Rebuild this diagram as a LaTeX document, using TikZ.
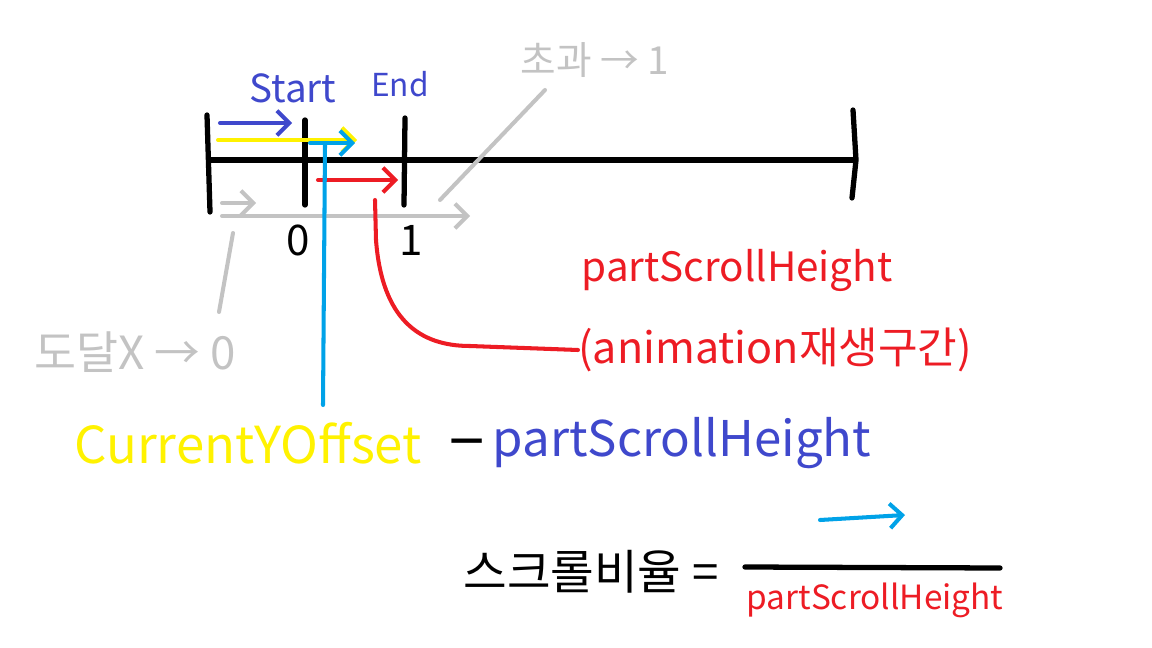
\documentclass[tikz,border=0pt]{standalone}
\usepackage{fontspec}
\setmainfont{Noto Sans CJK KR}
\usetikzlibrary{arrows.meta, calc}

\definecolor{penblue}{RGB}{63,72,204}
\definecolor{penyellow}{RGB}{255,242,0}
\definecolor{pencyan}{RGB}{0,162,232}
\definecolor{penred}{RGB}{237,28,36}
\definecolor{pengray}{RGB}{195,195,195}

\tikzset{
  pen/.style={line width=2.3pt, line cap=round, line join=round},
  thick pen/.style={line width=3pt, line cap=round},
  hand/.style={-{Straight Barb[length=7pt, width=14pt, line width=2.3pt]}},
  word/.style={inner sep=0pt, font=\fontsize{#1}{#1}\selectfont},
}

\begin{document}
\begin{tikzpicture}[x=0.02cm, y=-0.02cm]
        \useasboundingbox (0,0) rectangle (1152,648);

        % the ruler
        \coordinate (L) at (210,160);
        \coordinate (R) at (853,160);
        \draw[thick pen] (L) -- (R);
        \draw[thick pen] (207,115) -- (210,212);
        \draw[thick pen] (305,120) -- (305,205);
        \draw[thick pen] (405,118) -- (404,205);
        \draw[thick pen] (853,110) -- (856,160) -- (852,198);

        \node[word=24] (zero) at (298,240) {0};
        \node[word=24] (one) at (411,240) {1};
        \node[word=22, text=penblue] (start) at (293,88) {Start};
        \node[word=18, text=penblue] (end) at (400,84) {End};

        % arrows on the ruler
        \draw[pen, hand, penblue] (220,123) -- (292,123);
        \draw[pen, hand, penyellow] (218,140) -- (357,140);
        \draw[pen, hand, pencyan] (310,143) -- (355,143);
        \draw[pen, hand, penred] (318,180) -- (398,180);
        \draw[pen, hand, pengray] (222,203) -- (256,203);
        \draw[pen, hand, pengray] (222,216) -- (470,216);

        % gray notes
        \node[word=22, text=pengray] (over) at (595,60) {초과 → 1};
        \node[word=26, text=pengray] (reach) at (135,352) {도달X → 0};
        \draw[pen, pengray] (440,200) -- (545,90);
        \draw[pen, pengray] (233,233) -- (219,312);

        % red note
        \node[word=23, text=penred] (psh) at (737,270) {partScrollHeight};
        \node[word=24.5, text=penred, anchor=west] (anim) at (578,350) {(animation재생구간)};
        \coordinate (redTop) at (375,200);
        \draw[pen, penred] (redTop) -- (376,240) .. controls (382,320) and (420,346) .. (470,346) -- (anim.west);

        % offset line
        \node[word=29, text=penyellow] (cyo) at (248,443) {CurrentYOffset};
        \node[word=36] (minus) at (467,452) {−};
        \node[word=28, text=penblue] (bsh) at (682,443) {partScrollHeight};
        \coordinate (cyTop) at (325,145);
        \coordinate (cyEnd) at (323,405);
        \draw[pen, pencyan] (cyTop) -- (cyEnd);

        % ratio
        \node[word=27] (ratio) at (591,572) {스크롤비율 =};
        \coordinate (barL) at (745,567);
        \coordinate (barR) at (1000,568);
        \draw[thick pen] (barL) -- (barR);
        \draw[pen, hand, pencyan] (820,520) -- (905,515);
        \node[word=19, text=penred] (rsh) at (875,600) {partScrollHeight};
\end{tikzpicture}
\end{document}
